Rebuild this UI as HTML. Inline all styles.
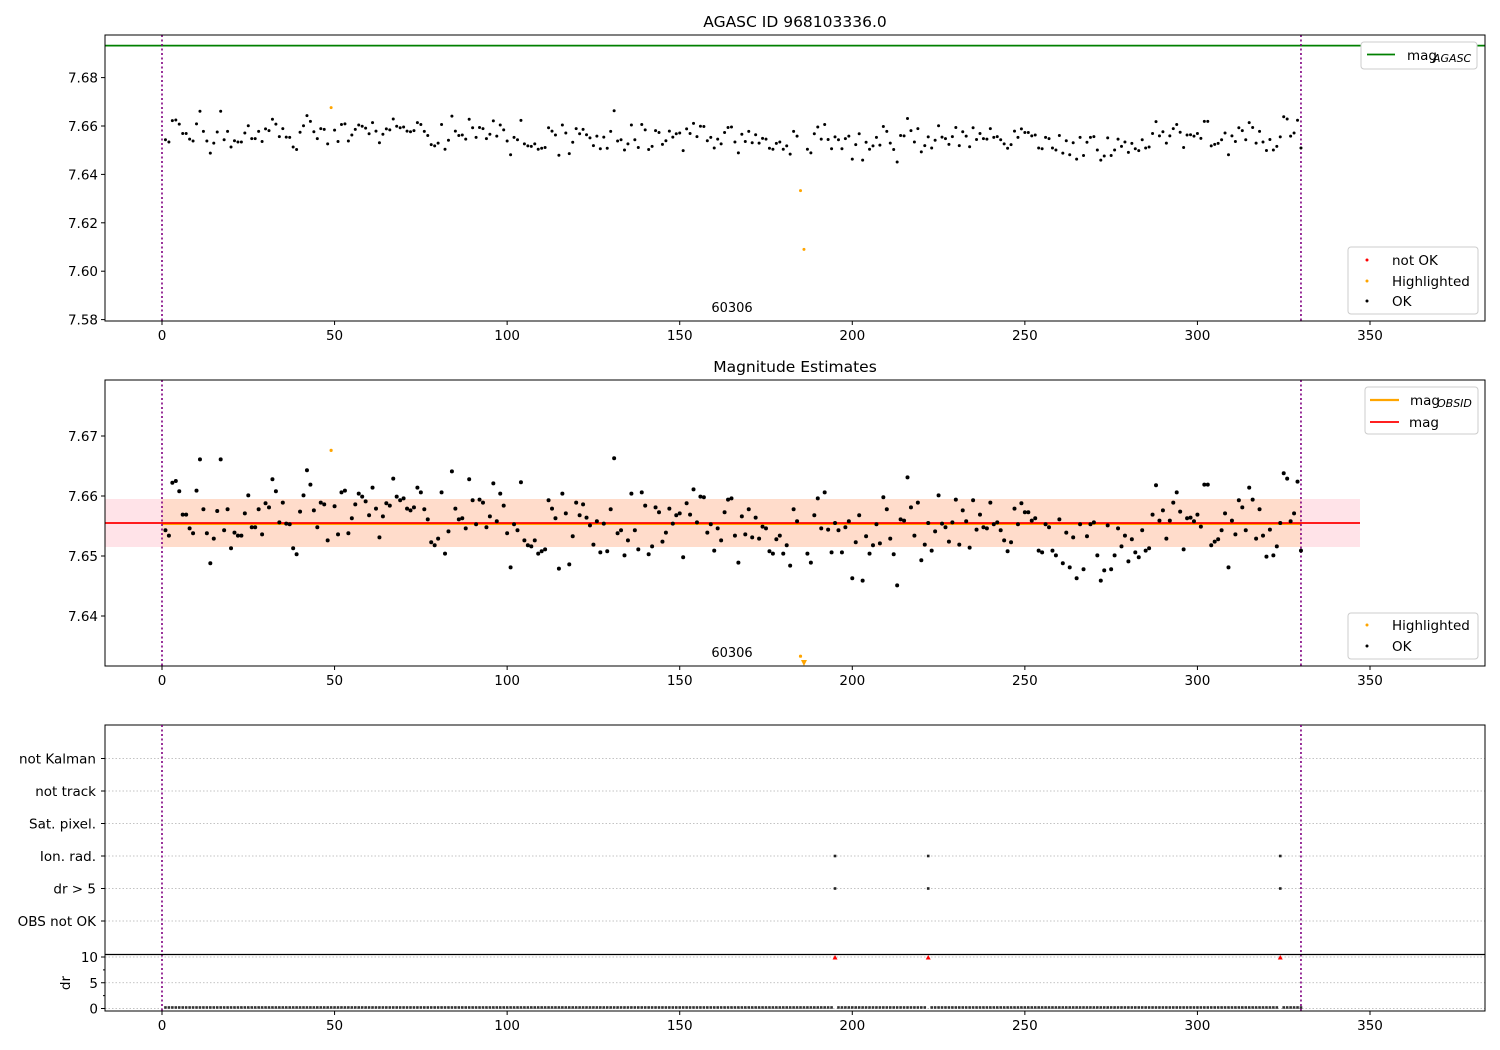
<!DOCTYPE html>
<html><head><meta charset="utf-8"><style>
html,body{margin:0;padding:0;background:#fff}
svg{display:block;font-family:"DejaVu Sans","Liberation Sans",sans-serif}
</style></head><body>
<svg id="fig" width="1500" height="1050" viewBox="0 0 1500 1050"></svg>
<script>
// ---- data ----
const magBase = 7.65;
const magOffsetMmag = [
4.3,3.4,12.2,12.5,10.8,6.9,6.9,4.6,3.8,10.9,16.1,7.8,3.8,-1.2,2.9,7.5,16.1,4.3,7.8,1.3,
3.9,3.4,3.4,7.1,10.1,4.8,4.8,7.8,3.6,8.8,8.1,12.8,10.8,5.6,8.9,5.4,5.3,1.3,0.3,7.4,
10.1,14.3,11.9,7.6,4.8,8.9,8.6,2.6,17.6,8.3,3.6,10.6,10.9,3.8,6.3,8.6,10.4,9.9,9.1,6.8,
11.4,7.9,3.1,6.6,8.8,8.4,12.9,9.9,9.3,9.6,7.9,7.6,8.1,11.4,10.6,7.8,6.1,2.3,1.8,2.9,
10.6,0.4,4.1,14.1,
7.9,6.1,6.3,4.6,12.8,9.3,5.3,9.4,8.9,4.8,6.6,12.1,5.8,10.4,8.4,3.8,-1.9,5.3,4.3,12.3,
2.6,1.8,1.6,2.6,0.4,0.8,1.1,9.3,7.9,6.3,-2.1,10.4,7.1,-1.4,3.3,8.9,6.8,8.6,6.4,5.1,
1.9,5.8,0.6,5.4,0.8,7.8,16.3,3.8,4.3,0.1,2.6,10.4,4.3,1.1,10.6,8.4,0.3,1.6,8.1,7.3,
2.4,3.9,7.9,5.4,6.8,7.1,-0.2,8.8,6.9,11.1,5.6,9.9,9.8,3.9,5.3,0.9,4.6,2.6,7.3,9.4,
9.6,3.4,-1.1,6.6,3.6,7.8,
3.1,6.4,2.9,4.9,4.6,0.8,0.4,2.8,3.4,0.4,1.8,-1.6,7.8,5.8,-16.7,-41,0.4,-1.1,6.8,9.6,
4.6,10.6,4.4,0.6,5.5,4.3,0.6,4.8,5.8,-3.7,2.3,6.8,-4.1,3.3,0.4,1.8,5.3,2.1,9.8,7.8,
2.9,0.3,-4.9,6.1,5.9,13.1,8.1,3.4,8.9,-0.7,1.9,5.5,0.9,4.1,10.1,5.4,4.8,2.4,5.6,9.4,
1.9,7.6,5.8,1.4,9.3,4.4,6.9,4.8,4.6,8.9,5.3,5.6,4.3,2.6,0.8,2.3,7.9,5.3,8.8,7.3,
7.3,5.9,6.3,0.9,0.6,
5.3,4.8,0.9,0.1,6.1,-1.2,3.9,-1.9,3.1,-3.7,5.3,-2.2,3.3,5.3,5.6,0.1,-4.1,-2.4,5.1,-2.2,
0.1,4.6,1.6,3.4,-0.9,2.8,0.6,-0.2,4.3,0.9,1.3,6.9,11.8,5.9,7.6,2.9,5.9,8.9,10.6,7.4,
1.1,6.3,6.4,5.8,6.9,4.9,11.9,11.9,1.8,2.4,2.8,4.3,7.1,-1.9,5.9,3.6,9.3,8.1,4.3,11.4,
9.4,2.9,7.8,3.4,-0.1,4.4,0.1,1.6,5.5,13.8,12.9,5.8,7.1,12.4,0.9
];
const highlightedTimes = [49, 185, 186];
const flaggedTimes = [195, 222, 324];
const drBaseline = 0.2;
const drFlaggedValues = [10, 10, 10];
const magAgasc = 7.6932;
const magMean = 7.6555;
const magStd = 0.0040;
const xTicks = [0, 50, 100, 150, 200, 250, 300, 350];
const y1Ticks = [7.58, 7.60, 7.62, 7.64, 7.66, 7.68];
const y2Ticks = [7.64, 7.65, 7.66, 7.67];
const flagCategories = ["OBS not OK", "dr > 5", "Ion. rad.", "Sat. pixel.", "not track", "not Kalman"];
const drTicks = [0, 5, 10];
const obsStart = 0, obsEnd = 330;

// ---- scales ----
const NS = "http://www.w3.org/2000/svg";
const svg = document.getElementById('fig');
const X0 = 105, X1 = 1485;
const xs = u => 162 + u * (1208 / 350);
const y1 = v => 126 + (7.66 - v) * 2420;
const y2 = v => 556 + (7.65 - v) * 6000;
const yCat = i => 921 - i * 32.5;
const yDr = v => 1008.5 - v * 5.15;

function el(tag, attrs, parent) {
  const e = document.createElementNS(NS, tag);
  for (const k in attrs) e.setAttribute(k, attrs[k]);
  (parent || svg).appendChild(e);
  return e;
}
function txt(x, y, s, attrs) {
  const t = el('text', Object.assign({x: x, y: y, 'font-size': 13.5, fill: '#000'}, attrs || {}));
  t.textContent = s;
  return t;
}
const mags = magOffsetMmag.map(m => magBase + m / 1000);
const times = mags.map((_, i) => i + 1);
const drValues = times.map(t => {
  const k = flaggedTimes.indexOf(t);
  return k >= 0 ? drFlaggedValues[k] : drBaseline;
});

function xAxis(yb, g) {
  xTicks.forEach(t => {
    el('line', {x1: xs(t), x2: xs(t), y1: yb, y2: yb + 4, stroke: '#000', 'stroke-width': 1}, g);
    const lab = txt(xs(t), yb + 19, String(t), {'text-anchor': 'middle'});
    
    
  });
}
function vlines(top, bot, g) {
  [obsStart, obsEnd].forEach(t => {
    el('line', {x1: xs(t), x2: xs(t), y1: top, y2: bot, stroke: '#800080', 'stroke-width': 1.6, 'stroke-dasharray': '2,2.5'}, g);
  });
}

// ===== Panel 1 =====
const g1 = el('g', {});


const c1 = el('clipPath', {id: 'c1'}); el('rect', {x: X0, y: 35, width: X1 - X0, height: 286}, c1);
const title1 = txt(795, 27, 'AGASC ID 968103336.0', {'text-anchor': 'middle', 'font-size': 15.5});


el('line', {x1: X0, x2: X1, y1: y1(magAgasc), y2: y1(magAgasc), stroke: '#008000', 'stroke-width': 1.8, 'clip-path': 'url(#c1)'}, g1);
vlines(35, 321, g1);
mags.forEach((v, i) => {
  const hl = highlightedTimes.includes(times[i]);
  const c = el('circle', {cx: xs(times[i]), cy: y1(v), r: 1.5, fill: hl ? '#ffa500' : '#000', 'clip-path': 'url(#c1)'}, g1);
  
  
});
el('rect', {x: X0, y: 35, width: X1 - X0, height: 286, fill: 'none', stroke: '#000', 'stroke-width': 1}, g1);
y1Ticks.forEach(t => {
  el('line', {x1: X0 - 4, x2: X0, y1: y1(t), y2: y1(t), stroke: '#000'}, g1);
  const l = txt(X0 - 7, y1(t) + 5, t.toFixed(2), {'text-anchor': 'end'});
  
  
});
xAxis(321, g1);
const obs1 = txt(732, 312, '60306', {'text-anchor': 'middle', 'font-size': 13});


const lg1 = el('g', {});


el('rect', {x: 1361, y: 42, width: 116, height: 27, rx: 3, fill: '#fff', stroke: '#ccc'}, lg1);
el('line', {x1: 1367, x2: 1395, y1: 54.5, y2: 54.5, stroke: '#008000', 'stroke-width': 1.8}, lg1);
const la = txt(1407, 60, 'mag', {});  
lg1.appendChild(la);
lg1.appendChild(txt(1433, 62, 'AGASC', {'font-size': 11, 'font-style': 'italic'}));
const lg2 = el('g', {});


el('rect', {x: 1348, y: 247, width: 130, height: 67, rx: 3, fill: '#fff', stroke: '#ccc'}, lg2);
[['not OK', '#ff0000', 260], ['Highlighted', '#ffa500', 281], ['OK', '#000', 301]].forEach(e => {
  el('circle', {cx: 1367, cy: e[2], r: 1.5, fill: e[1]}, lg2);
  const t = txt(1392, e[2] + 5, e[0], {}); lg2.appendChild(t);
  
  
});

// ===== Panel 2 =====
const g2 = el('g', {});


const c2 = el('clipPath', {id: 'c2'}); el('rect', {x: X0, y: 380, width: X1 - X0, height: 286}, c2);
const title2 = txt(795, 372, 'Magnitude Estimates', {'text-anchor': 'middle', 'font-size': 15.5});


const band = el('rect', {x: X0, y: y2(magMean + magStd), width: 1360 - X0, height: y2(magMean - magStd) - y2(magMean + magStd), fill: '#ffe3e8'}, g2);


el('rect', {x: xs(obsStart), y: y2(magMean + magStd), width: xs(obsEnd) - xs(obsStart), height: y2(magMean - magStd) - y2(magMean + magStd), fill: '#ffdccb'}, g2);
el('line', {x1: xs(obsStart), x2: xs(obsEnd), y1: y2(magMean) + 1, y2: y2(magMean) + 1, stroke: '#ffa500', 'stroke-width': 2}, g2);
const ml = el('line', {x1: X0, x2: 1360, y1: y2(magMean), y2: y2(magMean), stroke: '#ff0000', 'stroke-width': 1.8}, g2);


vlines(380, 666, g2);
const yMin2 = 7.65 - (666 - 556) / 6000;
mags.forEach((v, i) => {
  const hl = highlightedTimes.includes(times[i]);
  const col = hl ? '#ffa500' : '#000';
  let c;
  if (v < yMin2) {
    const x = xs(times[i]);
    c = el('path', {d: `M${x - 3},660 L${x + 3},660 L${x},666 Z`, fill: col}, g2);
  } else {
    c = el('circle', {cx: xs(times[i]), cy: y2(v), r: hl ? 1.6 : 2, fill: col, 'clip-path': 'url(#c2)'}, g2);
  }
  
  
});
el('rect', {x: X0, y: 380, width: X1 - X0, height: 286, fill: 'none', stroke: '#000', 'stroke-width': 1}, g2);
y2Ticks.forEach(t => {
  el('line', {x1: X0 - 4, x2: X0, y1: y2(t), y2: y2(t), stroke: '#000'}, g2);
  const l = txt(X0 - 7, y2(t) + 5, t.toFixed(2), {'text-anchor': 'end'});
  
  
});
xAxis(666, g2);
const obs2 = txt(732, 657, '60306', {'text-anchor': 'middle', 'font-size': 13});


const lg3 = el('g', {});


el('rect', {x: 1365, y: 387, width: 113, height: 47, rx: 3, fill: '#fff', stroke: '#ccc'}, lg3);
el('line', {x1: 1370, x2: 1399, y1: 400, y2: 400, stroke: '#ffa500', 'stroke-width': 2.2}, lg3);
el('line', {x1: 1370, x2: 1399, y1: 422, y2: 422, stroke: '#ff0000', 'stroke-width': 1.8}, lg3);
lg3.appendChild(txt(1410, 405, 'mag'));
lg3.appendChild(txt(1437, 407, 'OBSID', {'font-size': 11, 'font-style': 'italic'}));
lg3.appendChild(txt(1409, 427, 'mag'));
const lg4 = el('g', {});


el('rect', {x: 1348, y: 613, width: 130, height: 46, rx: 3, fill: '#fff', stroke: '#ccc'}, lg4);
[['Highlighted', '#ffa500', 625], ['OK', '#000', 646]].forEach(e => {
  el('circle', {cx: 1367, cy: e[2], r: 1.5, fill: e[1]}, lg4);
  const t = txt(1392, e[2] + 5, e[0], {}); lg4.appendChild(t);
  
  
});

// ===== Panel 3 flags =====
const g3 = el('g', {});


flagCategories.forEach((c, i) => {
  el('line', {x1: X0, x2: X1, y1: yCat(i), y2: yCat(i), stroke: '#b0b0b0', 'stroke-width': 0.8, 'stroke-dasharray': '1.5,2'}, g3);
  el('line', {x1: X0 - 4, x2: X0, y1: yCat(i), y2: yCat(i), stroke: '#000'}, g3);
  const l = txt(X0 - 9, yCat(i) + 5, c, {'text-anchor': 'end'});
  
  
});
flaggedTimes.forEach(t => {
  [1, 2].forEach(i => {
    const p = el('rect', {x: xs(t) - 1.3, y: yCat(i) - 1.3, width: 2.6, height: 2.6, fill: '#222'}, g3);
    
    
  });
});
el('rect', {x: X0, y: 725, width: X1 - X0, height: 229.5, fill: 'none', stroke: '#000', 'stroke-width': 1}, g3);

// ===== dr panel =====
const g4 = el('g', {});


drTicks.forEach(t => {
  el('line', {x1: X0, x2: X1, y1: yDr(t), y2: yDr(t), stroke: '#b0b0b0', 'stroke-width': 0.8, 'stroke-dasharray': '1.5,2'}, g4);
  el('line', {x1: X0 - 4, x2: X0, y1: yDr(t), y2: yDr(t), stroke: '#000'}, g4);
  const l = txt(X0 - 7, yDr(t) + 5, String(t), {'text-anchor': 'end'});
  
  
});
[2.5, 7.5].forEach(t => el('line', {x1: X0 - 2, x2: X0, y1: yDr(t), y2: yDr(t), stroke: '#000'}, g4));
const drl = txt(70, 983, 'dr', {'text-anchor': 'middle', transform: 'rotate(-90 70 983)'});


vlines(725, 1011, g4);
drValues.forEach((d, i) => {
  const x = xs(times[i]);
  let p;
  if (d > 5) {
    p = el('path', {d: `M${x - 2.5},${yDr(d) + 2.5} L${x + 2.5},${yDr(d) + 2.5} L${x},${yDr(d) - 2} Z`, fill: '#ff0000'}, g4);
  } else {
    p = el('rect', {x: x - 1.3, y: yDr(d) - 1.3, width: 2.6, height: 2.6, fill: '#333'}, g4);
  }
  
  
});
el('line', {x1: X0, x2: X1, y1: 954.5, y2: 954.5, stroke: '#000', 'stroke-width': 1.2}, g4);
el('rect', {x: X0, y: 954.5, width: X1 - X0, height: 56.5, fill: 'none', stroke: '#000', 'stroke-width': 1}, g4);
xAxis(1011, g4);
</script>
</body></html>
